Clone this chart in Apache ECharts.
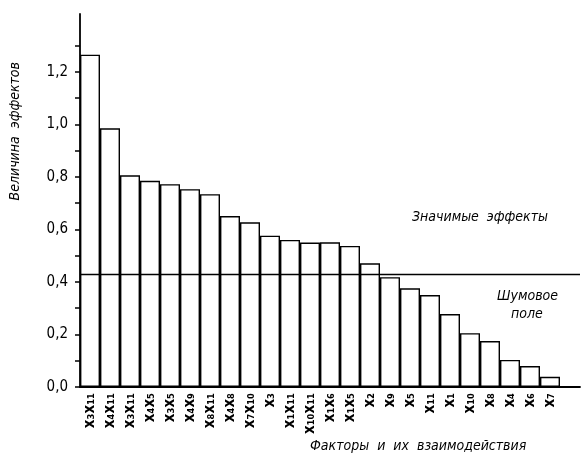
<!DOCTYPE html>
<html>
<head>
<meta charset="utf-8">
<script src="https://cdn.jsdelivr.net/npm/echarts@6/dist/echarts.min.js"></script>
<style>
  html, body { margin: 0; padding: 0; background: #fff; }
  #chart { width: 581px; height: 459px; }
</style>
</head>
<body>
<div id="chart"></div>
<script>
// factors and interactions, sorted by effect size
const factors = ['x₃x₁₁', 'x₄x₁₁', 'x₃x₁₁', 'x₄x₅', 'x₃x₅', 'x₄x₉', 'x₈x₁₁', 'x₄x₈',
  'x₇x₁₀', 'x₃', 'x₁x₁₁', 'x₁₀x₁₁', 'x₁x₆', 'x₁x₅', 'x₂', 'x₉', 'x₅', 'x₁₁',
  'x₁', 'x₁₀', 'x₈', 'x₄', 'x₆', 'x₇']
const effects = [1.265, 0.985, 0.806, 0.785, 0.772, 0.753, 0.734, 0.651,
  0.627, 0.576, 0.560, 0.550, 0.551, 0.537, 0.471, 0.418, 0.376, 0.350,
  0.278, 0.205, 0.175, 0.103, 0.080, 0.039]
const noiseLevel = 0.43
const yLabels = [0, 0.2, 0.4, 0.6, 0.8, 1.0, 1.2]
const yTicks = [0, 0.1, 0.2, 0.3, 0.4, 0.5, 0.6, 0.7, 0.8, 0.9, 1.0, 1.1, 1.2, 1.3]

const font = '"Liberation Sans Narrow", "DejaVu Sans Condensed", sans-serif'

const chart = echarts.init(document.getElementById('chart'))
chart.setOption({
  backgroundColor: '#fff',
  animation: false,
  grid: { left: 80, right: 1, top: 14, bottom: 72 },
  xAxis: {
    type: 'category',
    data: factors,
    max: factors.length,
    axisLine: { lineStyle: { color: '#000', width: 1.8 } },
    axisTick: { show: false },
    axisLabel: {
      interval: 0,
      rotate: 90,
      color: '#000',
      fontSize: 15,
      fontWeight: 'bold',
      fontFamily: '"DejaVu Sans Condensed", sans-serif',
      margin: 6
    }
  },
  yAxis: {
    type: 'value',
    min: 0,
    max: 1.42,
    splitLine: { show: false },
    axisLine: { show: true, lineStyle: { color: '#000', width: 1.8 } },
    axisTick: {
      show: true,
      length: 5,
      customValues: yTicks,
      lineStyle: { color: '#000', width: 1.5 }
    },
    axisLabel: {
      customValues: yLabels,
      color: '#000',
      fontSize: 15,
      fontFamily: font,
      margin: 12,
      formatter: v => v.toFixed(1).replace('.', ',')
    }
  },
  series: [{
    type: 'bar',
    data: effects,
    barCategoryGap: '0%',
    itemStyle: { color: '#fff', borderColor: '#000', borderWidth: 1.4 },
    markLine: {
      symbol: 'none',
      silent: true,
      label: { show: false },
      lineStyle: { color: '#000', width: 1.3, type: 'solid' },
      data: [{ yAxis: noiseLevel }]
    }
  }],
  graphic: [
    {
      type: 'text', left: 8, top: 62, rotation: Math.PI / 2,
      style: { text: 'Величина  эффектов', fontSize: 14, fontFamily: font, fontStyle: 'italic', fill: '#000' }
    },
    {
      type: 'text', left: 412, top: 210,
      style: { text: 'Значимые  эффекты', fontSize: 14, fontFamily: font, fontStyle: 'italic', fill: '#000' }
    },
    {
      type: 'text', left: 497, top: 289,
      style: { text: 'Шумовое', fontSize: 14, fontFamily: font, fontStyle: 'italic', fill: '#000' }
    },
    {
      type: 'text', left: 511, top: 307,
      style: { text: 'поле', fontSize: 14, fontFamily: font, fontStyle: 'italic', fill: '#000' }
    },
    {
      type: 'text', left: 310, top: 439,
      style: { text: 'Факторы  и  их  взаимодействия', fontSize: 14, fontFamily: font, fontStyle: 'italic', fill: '#000' }
    }
  ]
})
</script>
</body>
</html>
